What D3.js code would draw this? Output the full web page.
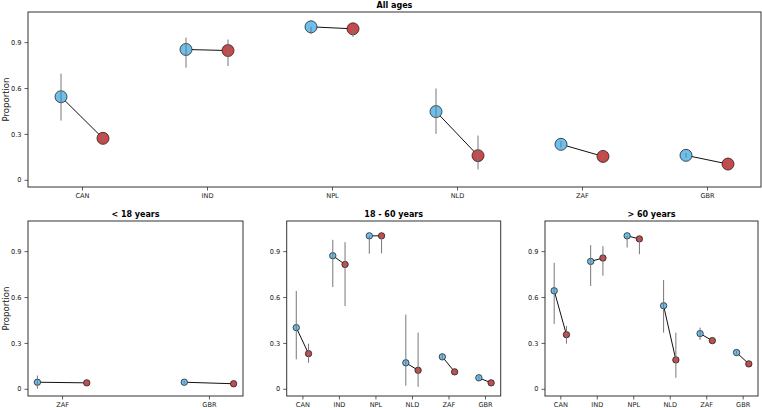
<!DOCTYPE html>
<html>
<head>
<meta charset="utf-8">
<script src="https://cdn.jsdelivr.net/npm/d3@7"></script>
<style>
  body { margin: 0; background: #fff; }
  text { font-family: "DejaVu Sans", sans-serif; fill: #222; }
</style>
</head>
<body>
<div class="canvas"></div>
<script>
// data: proportion with lower/upper interval, per group (blue = first, red = second)
const yTicks = [0, 0.3, 0.6, 0.9];

const allCats = ['CAN', 'IND', 'NPL', 'NLD', 'ZAF', 'GBR'];
const allBlue = [0.543, 0.852, 1.0, 0.446, 0.232, 0.160];
const allBlueLo = [0.387, 0.733, 0.952, 0.300, 0.212, 0.145];
const allBlueHi = [0.694, 0.930, 1.0, 0.597, 0.252, 0.175];
const allRed = [0.271, 0.845, 0.987, 0.158, 0.153, 0.103];
const allRedLo = [0.250, 0.744, 0.934, 0.068, 0.140, 0.090];
const allRedHi = [0.292, 0.917, 1.0, 0.289, 0.166, 0.115];

const youngCats = ['ZAF', 'GBR'];
const youngBlue = [0.043, 0.043];
const youngBlueLo = [0.0, 0.035];
const youngBlueHi = [0.087, 0.051];
const youngRed = [0.039, 0.033];
const youngRedLo = [0.032, 0.026];
const youngRedHi = [0.046, 0.040];

const midCats = ['CAN', 'IND', 'NPL', 'NLD', 'ZAF', 'GBR'];
const midBlue = [0.40, 0.87, 1.0, 0.17, 0.209, 0.072];
const midBlueLo = [0.193, 0.665, 0.883, 0.02, 0.189, 0.062];
const midBlueHi = [0.64, 0.974, 1.0, 0.485, 0.229, 0.082];
const midRed = [0.23, 0.813, 1.0, 0.121, 0.111, 0.039];
const midRedLo = [0.17, 0.541, 0.885, 0.013, 0.101, 0.033];
const midRedHi = [0.295, 0.959, 1.0, 0.367, 0.121, 0.045];

const oldCats = ['CAN', 'IND', 'NPL', 'NLD', 'ZAF', 'GBR'];
const oldBlue = [0.641, 0.833, 1.0, 0.543, 0.361, 0.237];
const oldBlueLo = [0.424, 0.672, 0.924, 0.367, 0.32, 0.225];
const oldBlueHi = [0.824, 0.939, 1.0, 0.711, 0.40, 0.249];
const oldRed = [0.354, 0.855, 0.98, 0.189, 0.315, 0.163];
const oldRedLo = [0.295, 0.739, 0.88, 0.072, 0.305, 0.153];
const oldRedHi = [0.411, 0.933, 1.0, 0.367, 0.325, 0.173];

const blueFill = '#6cc0ee';
const redFill = '#c9494a';

const svg = d3.select('.canvas')
    .append('svg')
        .attr('width', 762)
        .attr('height', 408);

function panel(opts) {
    const {x0, x1, y0, y1, cats, pad, r, title, ylabel} = opts;
    const g = svg.append('g');

    const x = d3.scaleLinear()
        .domain([-pad, cats.length - 1 + pad])
        .range([x0, x1]);
    const y = d3.scaleLinear()
        .domain([-0.047, 1.097])
        .range([y1, y0]);
    const dodge = 0.168;

    const xAxis = d3.axisBottom(x)
        .tickValues(d3.range(cats.length))
        .tickFormat(i => cats[i])
        .tickSize(3.5)
        .tickPadding(3);
    const yAxis = d3.axisLeft(y)
        .tickValues(yTicks)
        .tickFormat(d => d === 0 ? '0' : d3.format('.1f')(d))
        .tickSize(3.5)
        .tickPadding(3);

    const xg = g.append('g').attr('transform', `translate(0,${y1})`).call(xAxis);
    const yg = g.append('g').attr('transform', `translate(${x0},0)`).call(yAxis);
    [xg, yg].forEach(a => {
        a.select('.domain').remove();
        a.selectAll('line').attr('stroke', '#333').attr('stroke-width', 0.8);
        a.selectAll('text').attr('font-size', 6.6).style('fill', '#222');
    });

    g.append('rect')
        .attr('x', x0).attr('y', y0)
        .attr('width', x1 - x0).attr('height', y1 - y0)
        .attr('fill', 'none')
        .attr('stroke', '#333')
        .attr('stroke-width', 1);

    const rows = cats.map((c, i) => ({
        i,
        b: opts.blue[i], bLo: opts.blueLo[i], bHi: opts.blueHi[i],
        r: opts.red[i], rLo: opts.redLo[i], rHi: opts.redHi[i]
    }));

    // connecting lines
    g.selectAll('line.link')
        .data(rows)
        .enter().append('line')
        .attr('x1', d => x(d.i - dodge)).attr('y1', d => y(d.b))
        .attr('x2', d => x(d.i + dodge)).attr('y2', d => y(d.r))
        .attr('stroke', '#111')
        .attr('stroke-width', 1);

    // markers
    g.selectAll('circle.blue')
        .data(rows)
        .enter().append('circle')
        .attr('cx', d => x(d.i - dodge)).attr('cy', d => y(d.b))
        .attr('r', r)
        .attr('fill', blueFill)
        .attr('stroke', '#222').attr('stroke-width', 0.8);
    g.selectAll('circle.red')
        .data(rows)
        .enter().append('circle')
        .attr('cx', d => x(d.i + dodge)).attr('cy', d => y(d.r))
        .attr('r', r)
        .attr('fill', redFill)
        .attr('stroke', '#222').attr('stroke-width', 0.8);

    // error bars drawn on top
    g.selectAll('line.eb')
        .data(rows)
        .enter().append('line')
        .attr('x1', d => x(d.i - dodge)).attr('x2', d => x(d.i - dodge))
        .attr('y1', d => y(d.bLo)).attr('y2', d => y(d.bHi))
        .attr('stroke', '#777').attr('stroke-width', 1);
    g.selectAll('line.er')
        .data(rows)
        .enter().append('line')
        .attr('x1', d => x(d.i + dodge)).attr('x2', d => x(d.i + dodge))
        .attr('y1', d => y(d.rLo)).attr('y2', d => y(d.rHi))
        .attr('stroke', '#777').attr('stroke-width', 1);

    g.append('text')
        .attr('x', (x0 + x1) / 2).attr('y', y0 - 4)
        .attr('text-anchor', 'middle')
        .attr('font-size', 8)
        .attr('font-weight', 'bold')
        .style('fill', '#000')
        .text(title);

    if (ylabel) {
        g.append('text')
            .attr('transform', `translate(9,${(y0 + y1) / 2}) rotate(-90)`)
            .attr('text-anchor', 'middle')
            .attr('font-size', 8.5)
            .text(ylabel);
    }
}

panel({x0: 28, x1: 761, y0: 12, y1: 187, cats: allCats, pad: 0.432, r: 6,
    title: 'All ages', ylabel: 'Proportion',
    blue: allBlue, blueLo: allBlueLo, blueHi: allBlueHi,
    red: allRed, redLo: allRedLo, redHi: allRedHi});

panel({x0: 28, x1: 243, y0: 221, y1: 396, cats: youngCats, pad: 0.232, r: 3.2,
    title: '< 18 years', ylabel: 'Proportion',
    blue: youngBlue, blueLo: youngBlueLo, blueHi: youngBlueHi,
    red: youngRed, redLo: youngRedLo, redHi: youngRedHi});

panel({x0: 286.7, x1: 500.7, y0: 221, y1: 396, cats: midCats, pad: 0.43, r: 3.2,
    title: '18 - 60 years', ylabel: null,
    blue: midBlue, blueLo: midBlueLo, blueHi: midBlueHi,
    red: midRed, redLo: midRedLo, redHi: midRedHi});

panel({x0: 545, x1: 758, y0: 221, y1: 396, cats: oldCats, pad: 0.42, r: 3.2,
    title: '> 60 years', ylabel: null,
    blue: oldBlue, blueLo: oldBlueLo, blueHi: oldBlueHi,
    red: oldRed, redLo: oldRedLo, redHi: oldRedHi});
</script>
</body>
</html>
